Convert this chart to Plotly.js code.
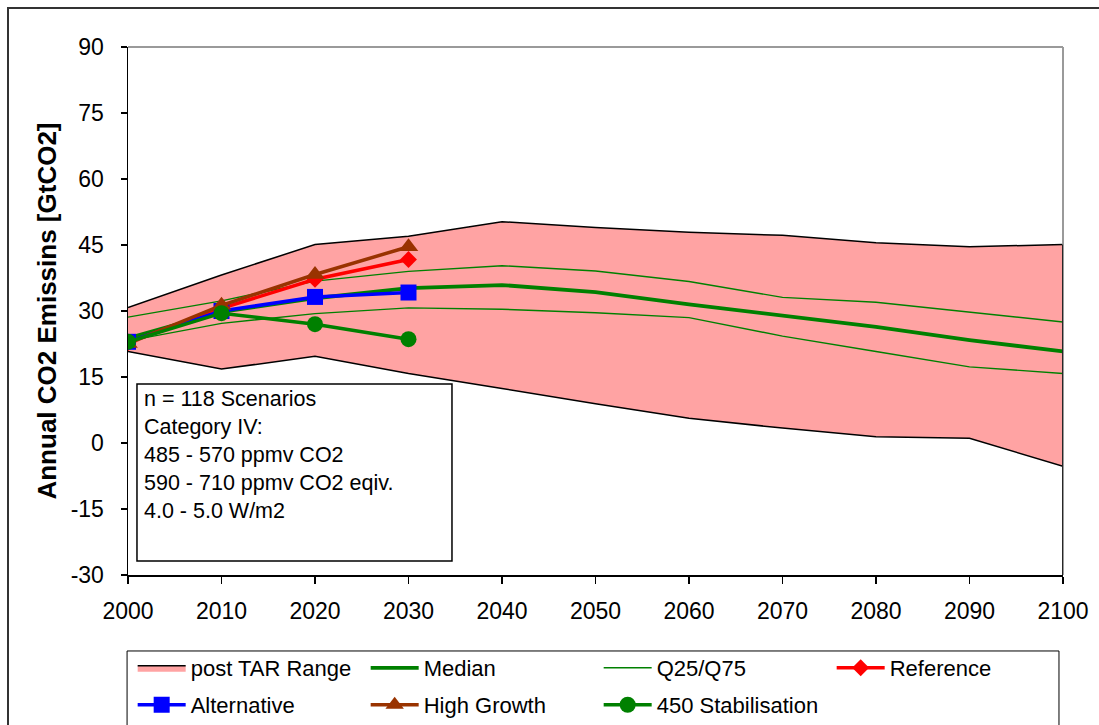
<!DOCTYPE html>
<html>
<head>
<meta charset="utf-8">
<script src="https://cdn.plot.ly/plotly-3.0.1.min.js"></script>
<style>
  html, body { margin: 0; padding: 0; background: #fff; overflow: hidden; }
  #wrap { position: relative; width: 1099px; height: 725px; }
  #chart { position: absolute; left: 0; top: 0; width: 1099px; height: 725px; }
  #frame { position: absolute; left: 7px; top: 7px; width: 1200px; height: 900px;
           border-left: 2px solid #333; border-top: 2px solid #333; pointer-events: none; }
</style>
</head>
<body>
<div id="wrap">
  <div id="chart"></div>
  <div id="frame"></div>
</div>
<script>
// Annual CO2 emissions, Category IV scenarios (GtCO2)
const years = [2000, 2010, 2020, 2030, 2040, 2050, 2060, 2070, 2080, 2090, 2100];
const rangeUpper = [30.8, 38.2, 45.1, 47.0, 50.3, 49.0, 47.9, 47.2, 45.5, 44.6, 45.1];
const rangeLower = [20.8, 16.8, 19.7, 15.8, 12.4, 8.9, 5.6, 3.4, 1.4, 1.1, -5.3];
const median = [23.8, 29.8, 32.9, 35.2, 35.9, 34.3, 31.5, 29.0, 26.4, 23.4, 20.8];
const q75 = [28.6, 32.3, 36.8, 39.0, 40.3, 39.1, 36.7, 33.1, 32.0, 29.8, 27.5];
const q25 = [23.2, 27.2, 29.4, 30.7, 30.4, 29.6, 28.5, 24.3, 20.8, 17.3, 15.8];

const scenYears = [2000, 2010, 2020, 2030];
const reference = [22.8, 30.6, 37.2, 41.7];
const alternative = [23.0, 30.0, 33.2, 34.2];
const highGrowth = [22.6, 31.3, 38.3, 44.6];
const stab450 = [23.0, 29.5, 27.0, 23.6];

const yTicks = [-30, -15, 0, 15, 30, 45, 60, 75, 90];
const xTicks = years;

const infoLines = [
  'n = 118 Scenarios',
  'Category IV:',
  '485 - 570 ppmv CO2',
  '590 - 710 ppmv CO2 eqiv.',
  '4.0 - 5.0 W/m2'
];

const FONT = 'Liberation Sans, Arial, sans-serif';
const GREEN = '#008000';
const PINK = '#FFA3A3';

const traces = [
  { x: years, y: rangeLower, mode: 'lines', line: { color: '#000', width: 1.5 },
    showlegend: false, hoverinfo: 'skip', legendgroup: 'range' },
  { x: years, y: rangeUpper, mode: 'lines', fill: 'tonexty', fillcolor: PINK,
    line: { color: '#000', width: 1.5 }, name: 'post TAR Range', legendgroup: 'range',
    legend: 'legend', legendrank: 1 },
  { x: years, y: q25, mode: 'lines', line: { color: GREEN, width: 1.4 },
    name: 'Q25/Q75', legendgroup: 'q', showlegend: false },
  { x: years, y: q75, mode: 'lines', line: { color: GREEN, width: 1.4 },
    name: 'Q25/Q75', legendgroup: 'q', legend: 'legend', legendrank: 3 },
  { x: years, y: median, mode: 'lines', line: { color: GREEN, width: 3.8 },
    name: 'Median', legend: 'legend', legendrank: 2 },
  { x: scenYears, y: reference, mode: 'lines+markers', line: { color: '#FF0000', width: 3.5 },
    marker: { symbol: 'diamond', size: 13, color: '#FF0000' },
    name: 'Reference', legend: 'legend', legendrank: 4 },
  { x: scenYears, y: alternative, mode: 'lines+markers', line: { color: '#0000FF', width: 3.5 },
    marker: { symbol: 'square', size: 16, color: '#0000FF' },
    name: 'Alternative', legend: 'legend2', legendrank: 1 },
  { x: scenYears, y: highGrowth, mode: 'lines+markers', line: { color: '#993300', width: 3.5 },
    marker: { symbol: 'triangle-up', size: 17, color: '#993300' },
    name: 'High Growth', legend: 'legend2', legendrank: 2 },
  { x: scenYears, y: stab450, mode: 'lines+markers', line: { color: GREEN, width: 3.5 },
    marker: { symbol: 'circle', size: 16, color: GREEN },
    name: '450 Stabilisation', legend: 'legend2', legendrank: 3 }
];

const legendBase = {
  orientation: 'h',
  xref: 'paper', yref: 'paper',
  xanchor: 'left', yanchor: 'top',
  bgcolor: 'rgba(0,0,0,0)', borderwidth: 0,
  entrywidth: 170, entrywidthmode: 'pixels',
  itemwidth: 48,
  font: { family: FONT, size: 22, color: '#000' },
  itemclick: false, itemdoubleclick: false
};

const annotations = infoLines.map((t, i) => ({
  xref: 'paper', yref: 'paper',
  x: 0.0155, y: 0.333 - i * 0.053,
  xanchor: 'left', yanchor: 'middle',
  text: t, showarrow: false,
  font: { family: FONT, size: 21.5, color: '#000' }
}));

const shapes = [
  // plot-area frame (top and right)
  { type: 'line', xref: 'paper', yref: 'paper', x0: 0, x1: 1, y0: 1, y1: 1,
    line: { color: '#9a9a9a', width: 2 } },
  { type: 'line', xref: 'paper', yref: 'paper', x0: 1, x1: 1, y0: 0, y1: 1,
    line: { color: '#9a9a9a', width: 2 } },
  { type: 'line', xref: 'x', yref: 'y', x0: years[years.length - 1], x1: years[years.length - 1],
    y0: yTicks[0], y1: rangeUpper[rangeUpper.length - 1], line: { color: '#000', width: 1.5 } },
  // info box
  { type: 'rect', xref: 'paper', yref: 'paper', x0: 0.0096, x1: 0.3465, y0: 0.0265, y1: 0.3617,
    line: { color: '#000', width: 1.5 }, fillcolor: 'rgba(255,255,255,1)' },
  // legend box
  { type: 'rect', xref: 'paper', yref: 'paper', x0: -0.001, x1: 0.9957, y0: -0.5, y1: -0.1439,
    line: { color: '#000', width: 1 } }
];

const layout = {
  width: 1099, height: 725,
  margin: { l: 128, r: 36, t: 47, b: 150, autoexpand: false },
  paper_bgcolor: 'rgba(0,0,0,0)',
  plot_bgcolor: '#fff',
  font: { family: FONT, color: '#000' },
  xaxis: {
    range: [2000, 2100], tickvals: xTicks, ticktext: xTicks.map(String),
    ticks: 'outside', ticklen: 7, tickwidth: 1.5, tickcolor: '#000',
    showline: true, linecolor: '#000', linewidth: 1.5,
    showgrid: false, zeroline: false, fixedrange: true,
    tickfont: { family: FONT, size: 23, color: '#000' },
    ticklabelstandoff: 8
  },
  yaxis: {
    range: [-30, 90], tickvals: yTicks, ticktext: yTicks.map(String),
    ticks: 'outside', ticklen: 6, tickwidth: 1.5, tickcolor: '#000',
    showline: true, linecolor: '#000', linewidth: 1.5,
    showgrid: false, zeroline: false, fixedrange: true,
    tickfont: { family: FONT, size: 23, color: '#000' },
    ticklabelstandoff: 12,
    automargin: false,
    title: { text: '<b>Annual CO2 Emissins [GtCO2]</b>', standoff: 6,
             font: { family: FONT, size: 26, color: '#000' } }
  },
  legend: Object.assign({}, legendBase, { x: 0.005, y: -0.1364 }),
  legend2: Object.assign({}, legendBase, { x: 0.005, y: -0.2064 }),
  shapes: shapes,
  annotations: annotations,
  showlegend: true
};

Plotly.newPlot('chart', traces, layout, { staticPlot: true, displayModeBar: false });
</script>
</body>
</html>
